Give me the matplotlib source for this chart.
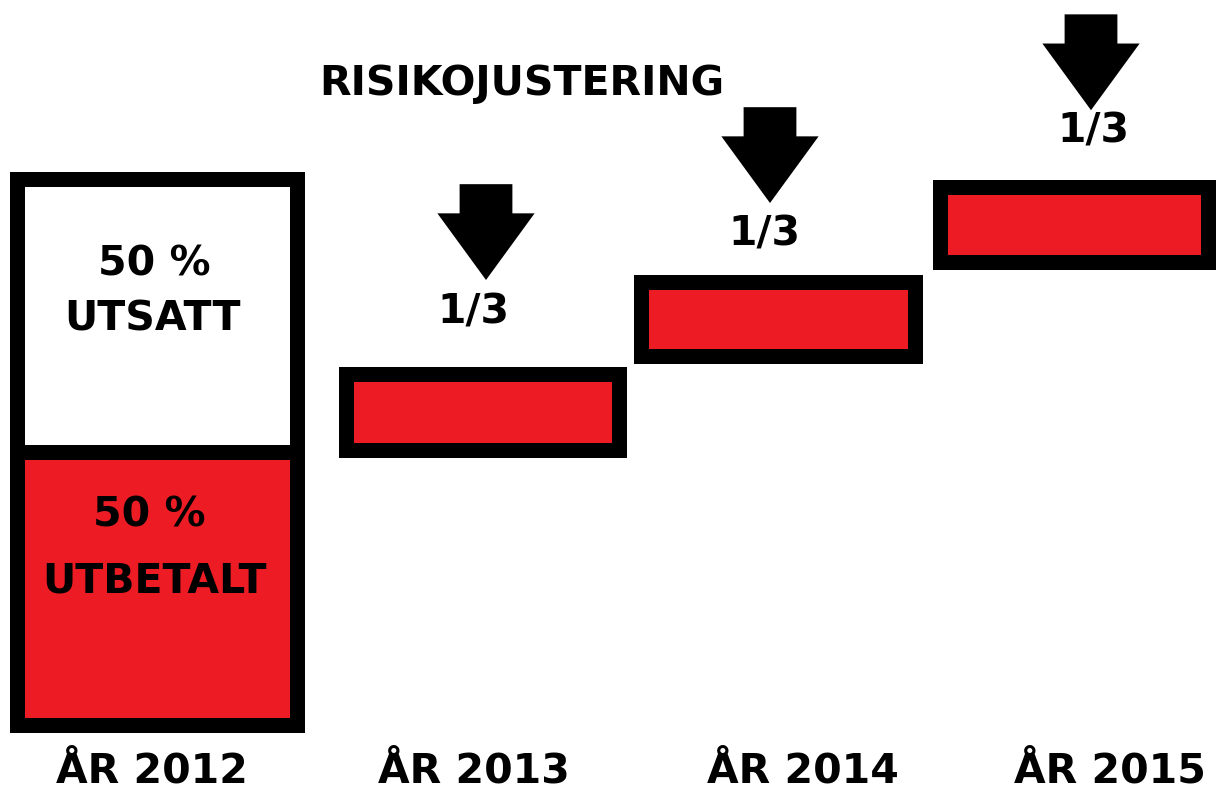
import matplotlib.pyplot as plt

# data (y in percent of the 2012 bonus)
years = ['ÅR 2012', 'ÅR 2013', 'ÅR 2014', 'ÅR 2015']
paid_2012 = 50
deferred_2012 = 50
tranche_bottom = [50.4, 67.6, 84.8]
tranche_top = [64.3, 81.1, 98.6]
tranche_label = '1/3'
title = 'RISIKOJUSTERING'

RED = '#ED1C24'
LW = 10.8
FS = 29.5

# layout
bar_x = [157, 482, 778, 1074]
bar_w = [280, 273, 274, 268]
year_x = [152, 474, 803, 1110]
arrow_x = [486, 770, 1091]
arrow_tip = [81.5, 95.6, 112.6]
frac_x = [473, 764, 1093]
frac_y = [73.6, 87.9, 106.6]

plt.rcParams['font.family'] = ['DejaVu Sans']
fig = plt.figure(figsize=(12.16, 7.93), dpi=100)
ax = fig.add_axes([0, 0, 1, 1])
ax.set_xlim(0, 1216)
ax.set_ylim(-12.45, 132.78)
ax.axis('off')

# 2012: paid + deferred
ax.bar(bar_x[0], paid_2012, width=bar_w[0], bottom=0, color=RED,
       edgecolor='black', linewidth=LW)
ax.bar(bar_x[0], deferred_2012, width=bar_w[0], bottom=paid_2012, color='white',
       edgecolor='black', linewidth=LW)

kw = dict(ha='center', va='baseline', fontsize=FS, fontweight='bold', color='black')
ax.text(154, 82.4, f'{deferred_2012} %', **kw)
ax.text(152, 72.3, 'UTSATT', **kw)
ax.text(149, 36.3, f'{paid_2012} %', **kw)
ax.text(154, 24.2, 'UTBETALT', **kw)

# deferred tranches
for i in range(3):
    h = tranche_top[i] - tranche_bottom[i]
    ax.bar(bar_x[i + 1], h, width=bar_w[i + 1], bottom=tranche_bottom[i],
           color=RED, edgecolor='black', linewidth=LW)
    ax.annotate('', xy=(arrow_x[i], arrow_tip[i]), xytext=(0, 69),
                textcoords='offset points',
                arrowprops=dict(arrowstyle='simple,head_length=4.8,head_width=7.0,tail_width=3.8',
                                mutation_scale=10, color='black', shrinkA=0, shrinkB=0,
                                linewidth=0))
    ax.text(frac_x[i], frac_y[i], tranche_label, **kw)

for x, lab in zip(year_x, years):
    ax.text(x, -10.6, lab, **kw)

ax.text(522, 115.4, title, **kw)

fig.savefig('out.png', dpi=100)
